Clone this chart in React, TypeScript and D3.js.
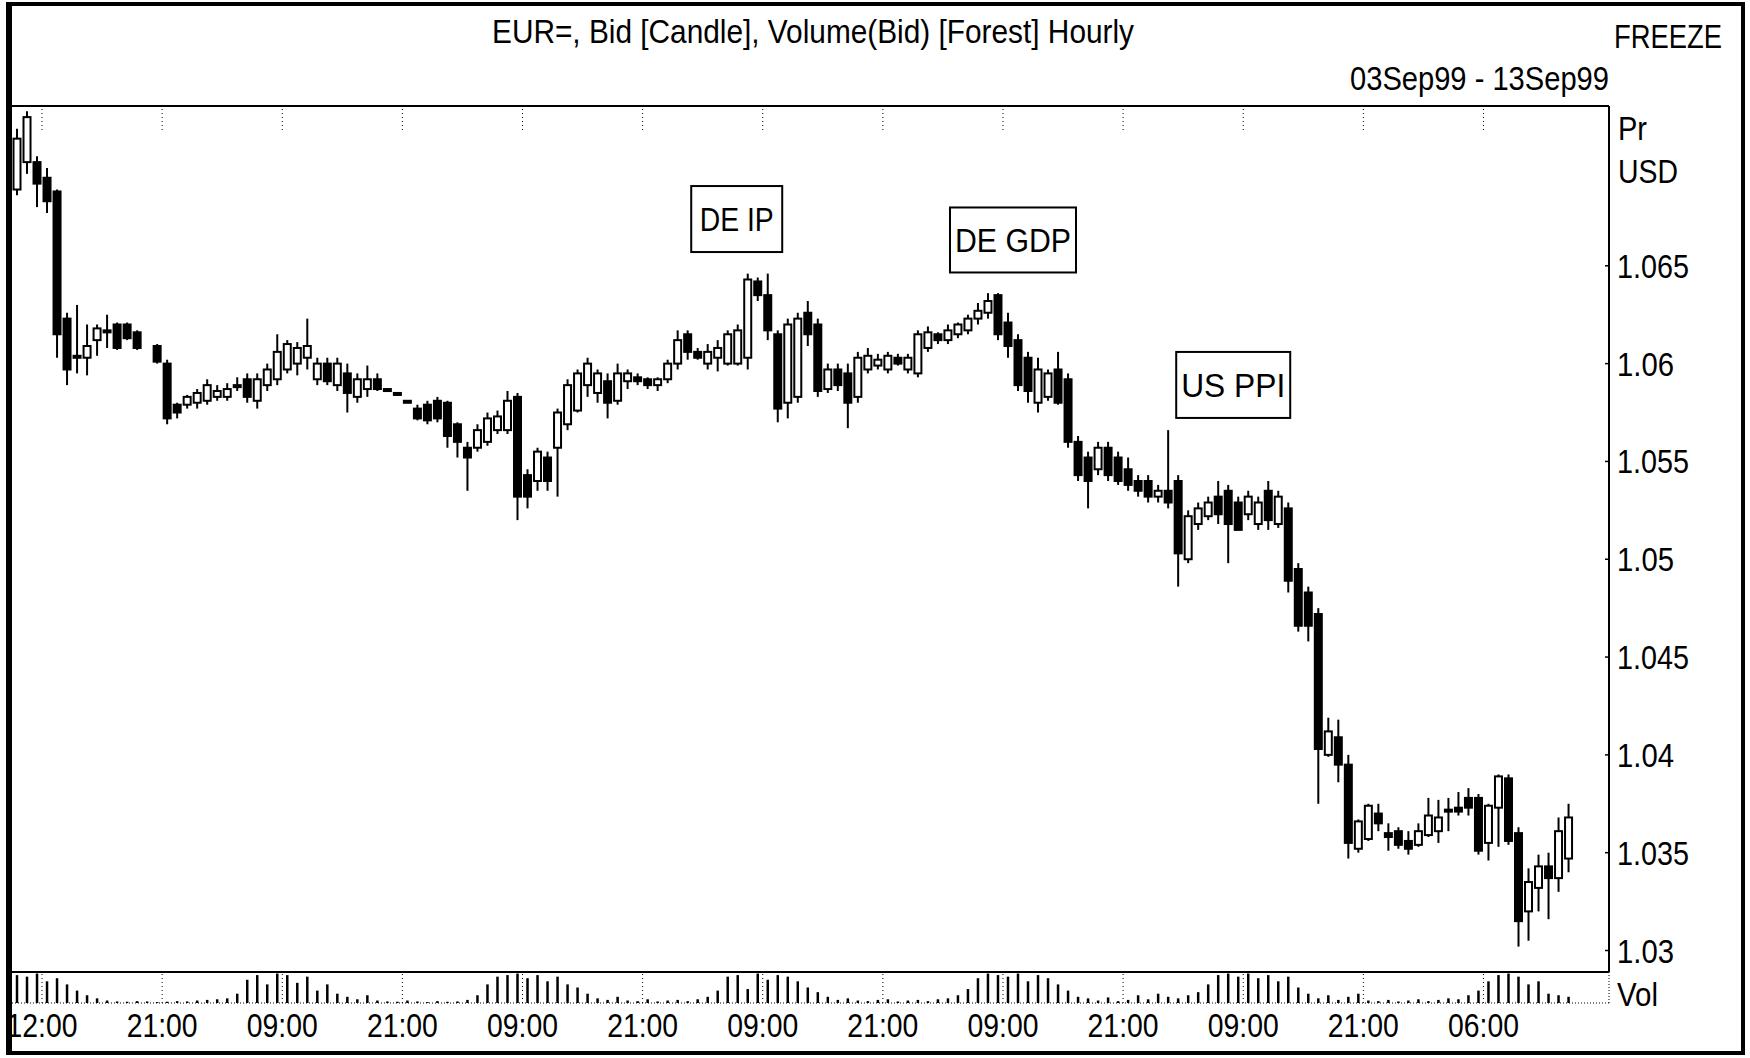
import React from "react";
import * as d3 from "d3";

const W = 1750;
const H = 1058;

const titleText = "EUR=, Bid [Candle], Volume(Bid) [Forest] Hourly";
const dateRange = "03Sep99 - 13Sep99";
const freezeText = "FREEZE";
const priceTicks = [1.065, 1.06, 1.055, 1.05, 1.045, 1.04, 1.035, 1.03];
const priceTickLabels = ["1.065", "1.06", "1.055", "1.05", "1.045", "1.04", "1.035", "1.03"];
const timeLabels = ["12:00", "21:00", "09:00", "21:00", "09:00", "21:00", "09:00", "21:00", "09:00", "21:00", "09:00", "21:00", "06:00"];
const timeTickSlots = [2.5, 14.5, 26.5, 38.5, 50.5, 62.5, 74.5, 86.5, 98.5, 110.5, 122.5, 134.5, 146.5];

// hourly bar slot, open, high, low, close
const candles: number[][] = [
  [0, 1.0689, 1.072, 1.0686, 1.0715], [1, 1.0703, 1.0729, 1.0697, 1.0726], [2, 1.0703, 1.0706, 1.068, 1.0692],
  [3, 1.0695, 1.07, 1.0677, 1.0683], [4, 1.0688, 1.0689, 1.0603, 1.0615], [5, 1.0623, 1.0626, 1.0589, 1.0597],
  [6, 1.0604, 1.063, 1.0595, 1.0603], [7, 1.0603, 1.062, 1.0594, 1.0609], [8, 1.0612, 1.062, 1.0604, 1.0618],
  [9, 1.0617, 1.0625, 1.0608, 1.0617], [10, 1.062, 1.0621, 1.0607, 1.0608], [11, 1.062, 1.0621, 1.0612, 1.0613],
  [12, 1.0616, 1.0617, 1.0607, 1.0608], [14, 1.0609, 1.061, 1.06, 1.0601], [15, 1.06, 1.0602, 1.0569, 1.0572],
  [16, 1.0579, 1.058, 1.0572, 1.0575], [17, 1.0579, 1.0584, 1.0577, 1.0583], [18, 1.058, 1.0587, 1.0577, 1.0585],
  [19, 1.0581, 1.0592, 1.0579, 1.0589], [20, 1.0583, 1.0589, 1.0581, 1.0586], [21, 1.0583, 1.059, 1.0581, 1.0587],
  [22, 1.0589, 1.0593, 1.0586, 1.0589], [23, 1.0592, 1.0595, 1.058, 1.0583], [24, 1.0581, 1.0595, 1.0577, 1.0592],
  [25, 1.0589, 1.06, 1.0586, 1.0597], [26, 1.0592, 1.0615, 1.0589, 1.0606], [27, 1.0597, 1.0612, 1.0595, 1.061],
  [28, 1.06, 1.0611, 1.0594, 1.0608], [29, 1.0603, 1.0623, 1.0597, 1.0609], [30, 1.0592, 1.0603, 1.0589, 1.06],
  [31, 1.06, 1.0603, 1.0589, 1.0591], [32, 1.0589, 1.0603, 1.0586, 1.06], [33, 1.0595, 1.06, 1.0575, 1.0585],
  [34, 1.0583, 1.0595, 1.058, 1.0592], [35, 1.0587, 1.0599, 1.0583, 1.0592], [36, 1.0592, 1.0595, 1.0586, 1.0587],
  [37, 1.0587, 1.0587, 1.0586, 1.0586], [38, 1.0585, 1.0585, 1.0584, 1.0584], [39, 1.0581, 1.0581, 1.058, 1.058],
  [40, 1.0577, 1.0579, 1.0571, 1.0572], [41, 1.0579, 1.0581, 1.0569, 1.0571], [42, 1.0581, 1.0583, 1.057, 1.0572],
  [43, 1.058, 1.0581, 1.0557, 1.0563], [44, 1.0569, 1.057, 1.0552, 1.056], [45, 1.0557, 1.056, 1.0535, 1.0552],
  [46, 1.0557, 1.0569, 1.0555, 1.0566], [47, 1.056, 1.0575, 1.0558, 1.0572], [48, 1.0566, 1.0576, 1.0564, 1.0573],
  [49, 1.0566, 1.0586, 1.0564, 1.0581], [50, 1.0583, 1.0585, 1.052, 1.0532], [51, 1.0543, 1.0546, 1.0526, 1.0532],
  [52, 1.054, 1.0557, 1.0535, 1.0555], [53, 1.0552, 1.0555, 1.0535, 1.054], [54, 1.0557, 1.0577, 1.0532, 1.0575],
  [55, 1.0569, 1.0592, 1.0566, 1.0589], [56, 1.0576, 1.0597, 1.0575, 1.0595], [57, 1.0589, 1.0603, 1.0583, 1.06],
  [58, 1.0585, 1.0597, 1.058, 1.0595], [59, 1.0591, 1.0595, 1.0572, 1.058], [60, 1.0581, 1.06, 1.0579, 1.0595],
  [61, 1.0591, 1.0597, 1.0587, 1.0595], [62, 1.0593, 1.0595, 1.0589, 1.0591], [63, 1.0592, 1.0593, 1.0587, 1.0589],
  [64, 1.0589, 1.0593, 1.0586, 1.0592], [65, 1.0592, 1.0602, 1.059, 1.06], [66, 1.06, 1.0617, 1.0597, 1.0612],
  [67, 1.0615, 1.0617, 1.0602, 1.0606], [68, 1.0606, 1.0608, 1.0602, 1.0603], [69, 1.06, 1.061, 1.0597, 1.0606],
  [70, 1.0603, 1.0612, 1.0596, 1.0608], [71, 1.06, 1.0617, 1.0599, 1.0615], [72, 1.06, 1.062, 1.0599, 1.0617],
  [73, 1.0603, 1.0646, 1.0597, 1.0643], [74, 1.0642, 1.0644, 1.0632, 1.0635], [75, 1.0635, 1.0646, 1.0612, 1.0617],
  [76, 1.0615, 1.0617, 1.057, 1.0577], [77, 1.058, 1.0623, 1.0572, 1.062], [78, 1.0583, 1.0626, 1.058, 1.0623],
  [79, 1.0626, 1.0632, 1.0609, 1.0615], [80, 1.062, 1.0623, 1.0583, 1.0586], [81, 1.0587, 1.06, 1.0585, 1.0597],
  [82, 1.0597, 1.06, 1.0586, 1.0589], [83, 1.0595, 1.06, 1.0567, 1.058], [84, 1.0583, 1.0606, 1.058, 1.0603],
  [85, 1.0597, 1.0608, 1.0595, 1.0604], [86, 1.0599, 1.0605, 1.0597, 1.0602], [87, 1.0597, 1.0606, 1.0595, 1.0604],
  [88, 1.0603, 1.0605, 1.0599, 1.06], [89, 1.0597, 1.0605, 1.0595, 1.0603], [90, 1.0595, 1.0617, 1.0593, 1.0615],
  [91, 1.0608, 1.0619, 1.0606, 1.0616], [92, 1.0615, 1.0616, 1.061, 1.0612], [93, 1.0612, 1.062, 1.061, 1.0617],
  [94, 1.0615, 1.0621, 1.0613, 1.062], [95, 1.0617, 1.0625, 1.0615, 1.0623], [96, 1.0623, 1.0631, 1.062, 1.0627],
  [97, 1.0626, 1.0636, 1.0623, 1.0632], [98, 1.0635, 1.0636, 1.0612, 1.0615], [99, 1.0621, 1.0626, 1.0603, 1.0609],
  [100, 1.0612, 1.0615, 1.0586, 1.0589], [101, 1.0603, 1.0606, 1.058, 1.0586], [102, 1.058, 1.0603, 1.0575, 1.0597],
  [103, 1.0583, 1.0597, 1.0581, 1.0595], [104, 1.0597, 1.0606, 1.0579, 1.058], [105, 1.0592, 1.0595, 1.0557, 1.056],
  [106, 1.056, 1.0563, 1.054, 1.0543], [107, 1.0552, 1.0555, 1.0526, 1.054], [108, 1.0546, 1.056, 1.0543, 1.0557],
  [109, 1.0557, 1.056, 1.054, 1.0543], [110, 1.0552, 1.0555, 1.0538, 1.054], [111, 1.0546, 1.0552, 1.0535, 1.0538],
  [112, 1.054, 1.0543, 1.0532, 1.0535], [113, 1.054, 1.0543, 1.0529, 1.0532], [114, 1.0532, 1.0538, 1.0529, 1.0535],
  [115, 1.0535, 1.0566, 1.0526, 1.0529], [116, 1.054, 1.0543, 1.0486, 1.0503], [117, 1.05, 1.0525, 1.0498, 1.0522],
  [118, 1.0518, 1.0529, 1.0515, 1.0526], [119, 1.0522, 1.0532, 1.052, 1.0529], [120, 1.0532, 1.054, 1.0518, 1.0523],
  [121, 1.0535, 1.0538, 1.0498, 1.0518], [122, 1.0529, 1.0532, 1.0515, 1.0515], [123, 1.0523, 1.0535, 1.052, 1.0532],
  [124, 1.0518, 1.0532, 1.0515, 1.0529], [125, 1.0535, 1.054, 1.0515, 1.052], [126, 1.0518, 1.0535, 1.0516, 1.0532],
  [127, 1.0526, 1.0529, 1.0483, 1.0489], [128, 1.0495, 1.0498, 1.0463, 1.0466], [129, 1.0483, 1.0486, 1.0458, 1.0466],
  [130, 1.0472, 1.0475, 1.0375, 1.0403], [131, 1.04, 1.0419, 1.0399, 1.0412], [132, 1.0409, 1.0418, 1.0386, 1.0395],
  [133, 1.0395, 1.04, 1.0347, 1.0355], [134, 1.0352, 1.0367, 1.035, 1.0366], [135, 1.0357, 1.0375, 1.0356, 1.0374],
  [136, 1.037, 1.0375, 1.0361, 1.0365], [137, 1.036, 1.0365, 1.0351, 1.0358], [138, 1.0361, 1.0363, 1.0352, 1.0354],
  [139, 1.0356, 1.0361, 1.0349, 1.0352], [140, 1.0354, 1.0365, 1.0353, 1.0361], [141, 1.0359, 1.0378, 1.0358, 1.0369],
  [142, 1.0361, 1.0377, 1.0355, 1.0368], [143, 1.0371, 1.0378, 1.0361, 1.0372], [144, 1.0373, 1.0381, 1.0369, 1.0371],
  [145, 1.0378, 1.0383, 1.0369, 1.0373], [146, 1.0378, 1.038, 1.0349, 1.0351], [147, 1.0355, 1.0375, 1.0346, 1.0374],
  [148, 1.0373, 1.039, 1.0353, 1.0389], [149, 1.0388, 1.039, 1.0354, 1.0356], [150, 1.036, 1.0363, 1.0302, 1.0315],
  [151, 1.032, 1.0342, 1.0305, 1.0335], [152, 1.0332, 1.0349, 1.032, 1.0343], [153, 1.0343, 1.035, 1.0316, 1.0337],
  [154, 1.0337, 1.0368, 1.033, 1.0361], [155, 1.0347, 1.0375, 1.034, 1.0368],
];

const volumes = [
  90, 85, 95, 70, 80, 60, 40, 25, 15,
  8, 5, 4, 6, 5, 3, 4, 6, 5, 8, 10, 12, 15, 30,
  75, 90, 60, 95, 90, 65, 85, 40, 60, 30,
  20, 12, 25, 8,
  5, 4, 8, 5, 3, 6, 4, 5, 10,
  25,
  60, 85, 90, 95, 80, 90, 70, 85, 60, 50, 30,
  15, 10, 20, 8, 6, 12, 5, 8, 10, 6, 12, 20,
  40, 85, 90, 45, 95, 75, 90, 85, 70, 50, 35,
  20, 10, 15, 8, 6, 10, 12, 5, 8, 10, 6, 12, 15, 25,
  45, 80, 95, 90, 85, 95, 70, 90, 80, 60, 40,
  20, 15, 8, 18, 6, 10, 25, 12, 30, 20, 15, 25,
  35, 60, 90, 95, 85, 95, 80, 90, 70, 85, 50, 30,
  15, 25, 10, 20, 30, 8, 6, 10, 5, 8, 12, 6, 10, 15, 12, 25,
  40, 70, 90, 95, 85, 60, 70, 30, 25, 20,
];

const annotations = [
  { text: "DE IP", slot: 71.9, price: 1.06739, w: 91, h: 66, tw: 74 },
  { text: "DE GDP", slot: 99.5, price: 1.06632, w: 126, h: 65, tw: 116 },
  { text: "US PPI", slot: 121.5, price: 1.05891, w: 114, h: 66, tw: 104 },
];

const FONT = "'Liberation Sans', Arial, sans-serif";

export default function App() {
  const plotLeft = 12;
  const plotRight = 1609;
  const plotTop = 106;
  const plotBottom = 972;
  const volBase = 1003;

  const x = d3.scaleLinear().domain([0, 155]).range([17, 17 + 155 * 10.01]);
  const y = d3.scaleLinear().domain([1.03, 1.065]).range([950.5, 265.8]);
  const vy = d3.scaleLinear().domain([0, 100]).range([0, 31]);

  const bodyW = 7;
  const fs = 34;

  return (
    <svg width={W} height={H} viewBox={`0 0 ${W} ${H}`} style={{ display: "block", position: "absolute", left: 0, top: 0, background: "#fff" }}>
      <rect x={0} y={0} width={W} height={H} fill="#fff" />
      {/* outer frame */}
      <rect x={6} y={2} width={6} height={1053} fill="#000" />
      <rect x={6} y={2} width={1739} height={4} fill="#000" />
      <rect x={1741} y={2} width={4} height={1053} fill="#000" />
      <rect x={6} y={1051} width={1739} height={4} fill="#000" />

      {/* header texts */}
      <text x={813} y={43} fontFamily={FONT} fontSize={fs} textAnchor="middle" textLength={642} lengthAdjust="spacingAndGlyphs">{titleText}</text>
      <text x={1614} y={48} fontFamily={FONT} fontSize={fs} textLength={108} lengthAdjust="spacingAndGlyphs">{freezeText}</text>
      <text x={1609} y={90} fontFamily={FONT} fontSize={fs} textAnchor="end" textLength={259} lengthAdjust="spacingAndGlyphs">{dateRange}</text>

      {/* plot frame */}
      <line x1={plotLeft} x2={plotRight} y1={plotTop} y2={plotTop} stroke="#000" strokeWidth={2} />
      <line x1={plotRight} x2={plotRight} y1={plotTop} y2={plotBottom} stroke="#000" strokeWidth={2} />
      <line x1={plotLeft} x2={plotRight} y1={plotBottom} y2={plotBottom} stroke="#000" strokeWidth={2} />
      <line x1={plotLeft} x2={plotRight} y1={volBase} y2={volBase} stroke="#000" strokeWidth={1} strokeDasharray="1,2" />
      <line x1={plotRight} x2={plotRight} y1={plotBottom} y2={volBase} stroke="#000" strokeWidth={1} strokeDasharray="1,2" />

      {/* vertical grid ticks */}
      {timeTickSlots.map((s, i) => (
        <g key={"g" + i}>
          <line x1={x(s)} x2={x(s)} y1={plotTop + 3} y2={plotTop + 24} stroke="#000" strokeWidth={1} strokeDasharray="1,3" />
          <line x1={x(s)} x2={x(s)} y1={plotBottom + 2} y2={volBase} stroke="#000" strokeWidth={1} strokeDasharray="1,3" />
        </g>
      ))}

      {/* right axis */}
      <text x={1618} y={140} fontFamily={FONT} fontSize={fs} textLength={29} lengthAdjust="spacingAndGlyphs">Pr</text>
      <text x={1618} y={183} fontFamily={FONT} fontSize={fs} textLength={60} lengthAdjust="spacingAndGlyphs">USD</text>
      {priceTicks.map((p, i) => (
        <g key={"p" + i}>
          <line x1={plotRight - 4} x2={plotRight} y1={y(p)} y2={y(p)} stroke="#000" strokeWidth={1.5} />
          <text x={1617} y={y(p) + 12} fontFamily={FONT} fontSize={fs} textLength={priceTickLabels[i].length > 4 ? 72 : 57} lengthAdjust="spacingAndGlyphs">{priceTickLabels[i]}</text>
        </g>
      ))}
      <text x={1617} y={1006} fontFamily={FONT} fontSize={fs} textLength={41} lengthAdjust="spacingAndGlyphs">Vol</text>

      {/* time labels */}
      {timeLabels.map((t, i) => (
        <text key={"t" + i} x={x(timeTickSlots[i])} y={1037} fontFamily={FONT} fontSize={fs} textAnchor="middle" textLength={71} lengthAdjust="spacingAndGlyphs">{t}</text>
      ))}

      {/* volume forest */}
      {volumes.map((v, i) => (
        <line key={"v" + i} x1={x(i)} x2={x(i)} y1={volBase} y2={volBase - vy(v)} stroke="#000" strokeWidth={2.5} />
      ))}

      {/* candles */}
      {candles.map((d, i) => {
        const [slot, o, h, l, cl] = d;
        const cx = x(slot);
        const up = cl >= o;
        const top = y(Math.max(o, cl));
        const bot = y(Math.min(o, cl));
        const bh = Math.max(bot - top, 2);
        return (
          <g key={"c" + i}>
            <line x1={cx} x2={cx} y1={y(h)} y2={y(l)} stroke="#000" strokeWidth={2} />
            <rect x={cx - bodyW / 2} y={top} width={bodyW} height={bh} fill={up ? "#fff" : "#000"} stroke="#000" strokeWidth={2} />
          </g>
        );
      })}

      {/* annotations */}
      {annotations.map((a, i) => {
        const cx = x(a.slot);
        const cy = y(a.price);
        return (
          <g key={"a" + i}>
            <rect x={cx - a.w / 2} y={cy - a.h / 2} width={a.w} height={a.h} fill="#fff" stroke="#000" strokeWidth={2} />
            <text x={cx} y={cy + 12} fontFamily={FONT} fontSize={fs} textAnchor="middle" textLength={a.tw} lengthAdjust="spacingAndGlyphs">{a.text}</text>
          </g>
        );
      })}
    </svg>
  );
}
